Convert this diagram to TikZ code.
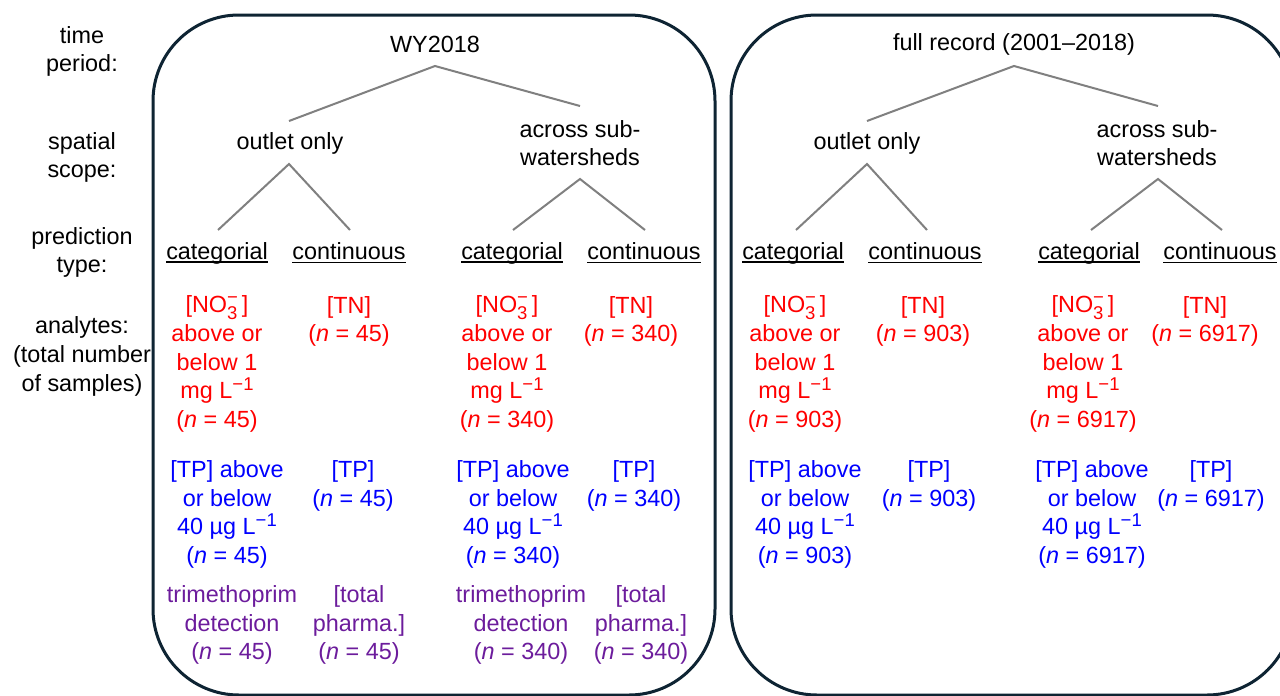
\documentclass[tikz,border=0pt]{standalone}
\usepackage{fontspec}
\setmainfont{Liberation Sans}
\definecolor{frameblue}{HTML}{0E2433}
\definecolor{treegray}{RGB}{128,128,128}
\definecolor{redtx}{RGB}{255,0,0}
\definecolor{bluetx}{RGB}{0,0,255}
\definecolor{purpletx}{RGB}{108,28,156}
\newcommand\subsz{\fontsize{18.5}{18.5}\selectfont}
\newcommand\supm[1]{\raisebox{8pt}{\subsz #1}}
\newcommand\nothree{[NO\rlap{\raisebox{-7pt}{\subsz 3}}\raisebox{9pt}{\subsz −}\,]}
\newcommand\ulx[1]{\setbox0=\hbox{#1}\rlap{\rule[-3.8pt]{\wd0}{1.4pt}}\box0}
\newcommand\nn[1]{(\textit{n} = #1)}
\begin{document}
\begin{tikzpicture}[x=1pt,y=-1pt,
  txt/.style={font=\fontsize{23.4}{28.7}\selectfont, align=center, inner sep=0pt, text=black},
  redt/.style={txt, text=redtx},
  bluet/.style={txt, text=bluetx},
  purplet/.style={txt, text=purpletx},
  frame/.style={draw=frameblue, line width=3pt, rounded corners=86pt},
  tree/.style={draw=treegray, line width=2pt}]
\useasboundingbox (0,0) rectangle (1280,696);
\clip (0,0) rectangle (1280,696);
\fill[white] (0,0) rectangle (1280,696);

% frames
\draw[frame] (153,15) rectangle (715,695);
\draw[frame] (731,15) rectangle (1293,695);

% row labels
\node[txt] (lbtime) at (82,51.5) {time\\period:};
\node[txt] (lbspace) at (82,157.5) {spatial\\scope:};
\node[txt] (lbpred) at (82,252.5) {prediction\\type:};
\node[txt] (lbana) at (82,356.5) {analytes:\\(total number\\of samples)};

% ---------- left box: WY2018 ----------
\node[txt] (wy) at (435,44) {WY2018};
\node[txt] (out1) at (290,143) {outlet only};
\node[txt] (acr1) at (580,143) {across sub-\\watersheds};
\node[txt] (cat1) at (217,253) {\ulx{categorial}};
\node[txt] (con1) at (349,253) {\ulx{continuous}};
\node[txt] (cat2) at (512,253) {\ulx{categorial}};
\node[txt] (con2) at (644,253) {\ulx{continuous}};

\coordinate (wyA) at (435,66);
\coordinate (out1T) at (289,121);
\coordinate (acr1T) at (580,106);
\coordinate (out1B) at (289,164);
\coordinate (acr1B) at (580,179);
\coordinate (cat1T) at (218,230);
\coordinate (con1T) at (350,230);
\coordinate (cat2T) at (513,230);
\coordinate (con2T) at (645,230);
\draw[tree] (out1T) -- (wyA) -- (acr1T);
\draw[tree] (cat1T) -- (out1B) -- (con1T);
\draw[tree] (cat2T) -- (acr1B) -- (con2T);

\node[redt] (no1) at (217,364) {\nothree\\above or\\below 1\\mg L\supm{−1}\\\nn{45}};
\node[redt] (tn1) at (349,321.5) {[TN]\\\nn{45}};
\node[redt] (no2) at (507,364) {\nothree\\above or\\below 1\\mg L\supm{−1}\\\nn{340}};
\node[redt] (tn2) at (631,321.5) {[TN]\\\nn{340}};

\node[bluet] (tp1) at (227,514.5) {[TP] above\\or below\\40 µg L\supm{−1}\\\nn{45}};
\node[bluet] (tpc1) at (353,486) {[TP]\\\nn{45}};
\node[bluet] (tp2) at (513,514.5) {[TP] above\\or below\\40 µg L\supm{−1}\\\nn{340}};
\node[bluet] (tpc2) at (634,486) {[TP]\\\nn{340}};

\node[purplet] (tm1) at (232,625) {trimethoprim\\detection\\\nn{45}};
\node[purplet] (ph1) at (359,625) {[total\\pharma.]\\\nn{45}};
\node[purplet] (tm2) at (521,625) {trimethoprim\\detection\\\nn{340}};
\node[purplet] (ph2) at (641,625) {[total\\pharma.]\\\nn{340}};

% ---------- right box: full record ----------
\node[txt] (full) at (1014,44) {full record (2001–2018)};
\node[txt] (out2) at (867,143) {outlet only};
\node[txt] (acr2) at (1157,143) {across sub-\\watersheds};
\node[txt] (cat3) at (793,253) {\ulx{categorial}};
\node[txt] (con3) at (925,253) {\ulx{continuous}};
\node[txt] (cat4) at (1089,253) {\ulx{categorial}};
\node[txt] (con4) at (1220,253) {\ulx{continuous}};

\coordinate (fullA) at (1014,66);
\coordinate (out2T) at (867,121);
\coordinate (acr2T) at (1158,106);
\coordinate (out2B) at (867,164);
\coordinate (acr2B) at (1158,179);
\coordinate (cat3T) at (796,230);
\coordinate (con3T) at (927,230);
\coordinate (cat4T) at (1091,230);
\coordinate (con4T) at (1222,230);
\draw[tree] (out2T) -- (fullA) -- (acr2T);
\draw[tree] (cat3T) -- (out2B) -- (con3T);
\draw[tree] (cat4T) -- (acr2B) -- (con4T);

\node[redt] (no3) at (795,364) {\nothree\\above or\\below 1\\mg L\supm{−1}\\\nn{903}};
\node[redt] (tn3) at (923,321.5) {[TN]\\\nn{903}};
\node[redt] (no4) at (1083,364) {\nothree\\above or\\below 1\\mg L\supm{−1}\\\nn{6917}};
\node[redt] (tn4) at (1205,321.5) {[TN]\\\nn{6917}};

\node[bluet] (tp3) at (805,514.5) {[TP] above\\or below\\40 µg L\supm{−1}\\\nn{903}};
\node[bluet] (tpc3) at (929,486) {[TP]\\\nn{903}};
\node[bluet] (tp4) at (1092,514.5) {[TP] above\\or below\\40 µg L\supm{−1}\\\nn{6917}};
\node[bluet] (tpc4) at (1211,486) {[TP]\\\nn{6917}};
\end{tikzpicture}
\end{document}
